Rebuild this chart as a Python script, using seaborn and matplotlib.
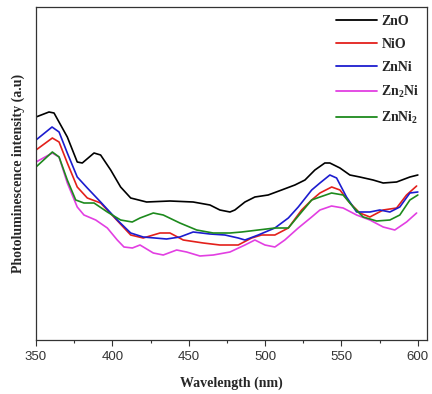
import numpy as np
import pandas as pd
import matplotlib
matplotlib.use("Agg")
import matplotlib.pyplot as plt
import seaborn as sns
from matplotlib.ticker import MultipleLocator

# Wavelength (nm) and intensity (a.u.)
zno_x = [350, 358.5, 361.8, 370.5, 377.0, 380.3, 388.0, 392.3, 398.9, 405.4, 412.0, 422.4, 437.7, 452.9,
         463.9, 470.4, 477.0, 480.2, 486.8, 493.3, 502.0, 510.8, 519.5, 526.1, 532.6, 539.1, 542.4, 549.0,
         555.5, 562.0, 570.7, 577.3, 586.1, 594.8, 600]
zno_y = [223, 228, 227, 203, 178, 177, 187, 185, 170, 153, 142, 138, 139, 138, 135, 130, 128, 130, 138,
         143, 145, 150, 155, 160, 170, 177, 177, 172, 165, 163, 160, 157, 158, 163, 165]

nio_x = [350, 360.7, 365.1, 370.5, 377.0, 383.6, 392.3, 401.0, 412.0, 420.2, 431.2, 437.7, 446.4, 459.5,
         470.4, 482.4, 491.2, 497.7, 506.4, 515.2, 523.9, 530.5, 535.9, 543.6, 549.0, 555.5, 562.0, 568.6,
         577.3, 586.1, 592.6, 599.2]
nio_y = [190, 202, 198, 177, 153, 142, 137, 123, 105, 102, 107, 107, 100, 97, 95, 95, 102, 105, 105, 112,
         130, 140, 147, 153, 150, 137, 127, 123, 130, 132, 145, 154]

znni_x = [350, 360.5, 365.1, 370.5, 377.0, 383.6, 392.3, 403.2, 412.0, 420.2, 435.5, 444.2, 452.9, 463.9,
          473.7, 482.4, 486.8, 495.5, 506.4, 515.2, 521.7, 530.5, 535.9, 542.4, 546.8, 553.3, 559.9, 568.6,
          575.1, 581.7, 588.2, 594.8, 600]
znni_y = [200, 213, 208, 187, 163, 152, 138, 120, 107, 103, 101, 103, 108, 106, 105, 102, 100, 105, 112,
          122, 133, 150, 157, 165, 162, 143, 128, 128, 130, 128, 133, 147, 148]

zn2ni_x = [350, 360.7, 365.1, 370.5, 377.0, 381.4, 389.1, 396.7, 403.2, 407.6, 413.1, 418.1, 426.8, 433.3,
           442.1, 448.6, 457.3, 466.1, 477.0, 486.8, 493.3, 499.9, 506.4, 512.9, 521.7, 530.5, 535.9, 543.5,
           551.1, 559.9, 568.6, 577.3, 584.9, 592.6, 599.2]
zn2ni_y = [178, 187, 183, 157, 133, 125, 120, 112, 100, 93, 92, 95, 87, 85, 90, 88, 84, 85, 88, 95, 100,
           95, 93, 100, 112, 123, 130, 134, 132, 125, 120, 113, 110, 118, 127]

znni2_x = [350, 360.7, 365.1, 370.5, 376.0, 381.4, 388.0, 396.7, 405.4, 413.0, 418.1, 426.8, 433.3, 444.2,
           455.2, 466.0, 477.0, 484.6, 495.5, 506.4, 515.2, 523.9, 530.5, 535.9, 543.5, 551.1, 557.7, 564.2,
           573.0, 581.7, 588.2, 594.8, 600]
znni2_y = [173, 188, 183, 160, 140, 137, 137, 128, 120, 118, 122, 127, 125, 117, 110, 107, 107, 108, 110,
           112, 112, 128, 140, 143, 147, 145, 133, 123, 119, 120, 125, 140, 145]

labels = ["ZnO", "NiO", "ZnNi", "Zn$_2$Ni", "ZnNi$_2$"]
colors = ["#000000", "#e3201b", "#1c1ccf", "#e23fe2", "#1d8a1d"]

series = [(zno_x, zno_y), (nio_x, nio_y), (znni_x, znni_y), (zn2ni_x, zn2ni_y), (znni2_x, znni2_y)]
frames = []
for lab, (xs, ys) in zip(labels, series):
    frames.append(pd.DataFrame({"Wavelength": xs, "Intensity": ys, "Sample": lab}))
df = pd.concat(frames, ignore_index=True)

sns.set_style("white")
plt.rcParams["mathtext.fontset"] = "custom"
plt.rcParams["mathtext.rm"] = "Liberation Serif:bold"
plt.rcParams["mathtext.default"] = "rm"

fig = plt.figure(figsize=(4.32, 3.94), dpi=100)
ax = fig.add_axes([36/432, 1-340/394, (427-36)/432, (340-7)/394])

sns.lineplot(data=df, x="Wavelength", y="Intensity", hue="Sample",
             palette=dict(zip(labels, colors)), hue_order=labels,
             sort=False, estimator=None, linewidth=1.2, ax=ax)

ax.set_xlim(350, 606)
ax.set_ylim(0, 333)
ax.set_yticks([])
ax.xaxis.set_major_locator(MultipleLocator(50))
ax.xaxis.set_minor_locator(MultipleLocator(25))
ax.tick_params(axis="x", which="major", direction="out", length=4, width=0.8,
               bottom=True, labelsize=9.5, colors="#333333", pad=4)
ax.tick_params(axis="x", which="minor", direction="out", length=2, width=0.8, bottom=True, colors="#333333")
for lab in ax.get_xticklabels():
    lab.set_fontfamily("Liberation Sans")
for s in ax.spines.values():
    s.set_color("#333333")
    s.set_linewidth(0.9)

ax.set_xlabel("Wavelength (nm)", fontfamily="Liberation Serif", fontweight="bold", fontsize=10, labelpad=10)
ax.set_ylabel("Photoluminescence intensity (a.u)", fontfamily="Liberation Serif", fontweight="bold",
              fontsize=10, labelpad=8)

leg = ax.legend(loc="upper right", frameon=False,
                prop={"family": "Liberation Serif", "weight": "bold", "size": 10},
                handlelength=3.0, handletextpad=0.3, labelspacing=0.72, borderaxespad=0.15)
for line in leg.get_lines():
    line.set_linewidth(1.3)

fig.savefig("out.png", dpi=100)
